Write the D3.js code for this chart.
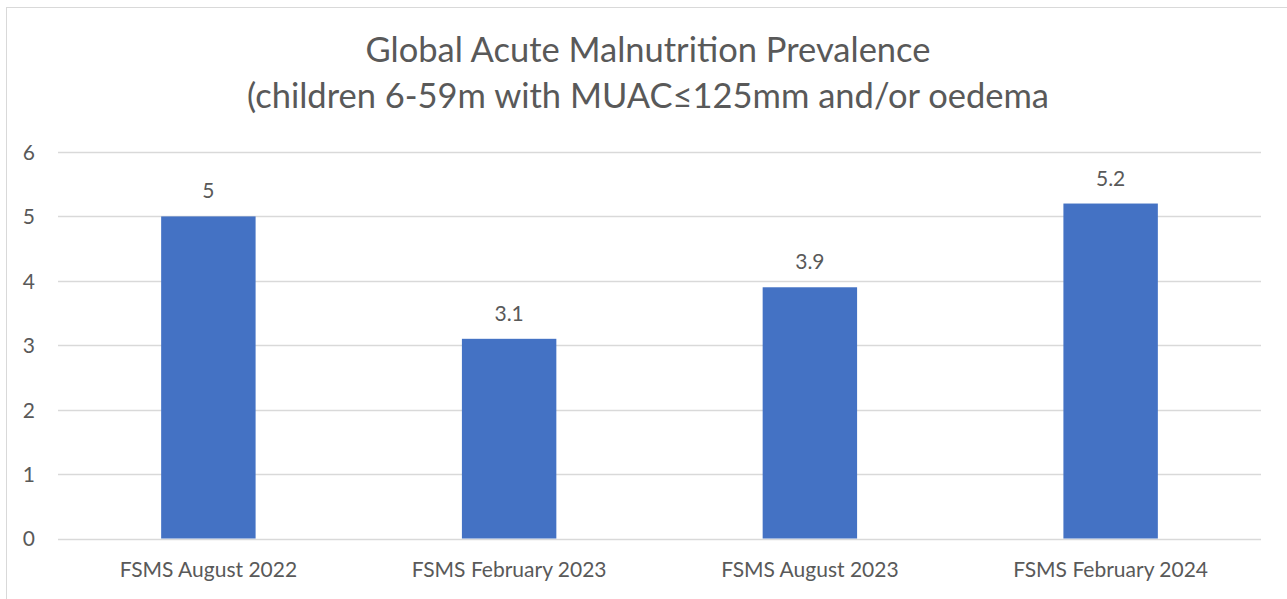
<!DOCTYPE html>
<html>
<head>
<meta charset="utf-8">
<script src="https://cdn.jsdelivr.net/npm/d3@7"></script>
<style>
  html, body { margin: 0; padding: 0; background: #fff; }
  svg { display: block; }
  text { font-family: Lato, "Open Sans", sans-serif; fill: #595959; }
</style>
</head>
<body>
<svg id="chart" width="1287" height="599"></svg>
<script>
const categories = ["FSMS August 2022", "FSMS February 2023", "FSMS August 2023", "FSMS February 2024"];
const values = [5, 3.1, 3.9, 5.2];
const yTicks = [0, 1, 2, 3, 4, 5, 6];
const titleLines = ["Global Acute Malnutrition Prevalence", "(children 6-59m with MUAC\u2264125mm and/or oedema"];

const svg = d3.select("#chart");
const W = 1287, H = 599;

// chart border (extends past right and bottom edges)
svg.append("rect")
  .attr("x", 6.5).attr("y", 7.5)
  .attr("width", W + 10).attr("height", H + 10)
  .attr("fill", "#fff").attr("stroke", "#d9d9d9").attr("stroke-width", 1);

const x = d3.scaleBand().domain(categories).range([58, 1261])
  .paddingInner(0.686).paddingOuter(0.343);
const y = d3.scaleLinear().domain([0, 6]).range([538.5, 152]);

// gridlines
svg.append("g").selectAll("line").data(yTicks).join("line")
  .attr("x1", 58).attr("x2", 1261)
  .attr("y1", d => Math.round(y(d)) + 0.5).attr("y2", d => Math.round(y(d)) + 0.5)
  .attr("stroke", "#d9d9d9").attr("stroke-width", 1.3);

// y axis labels
const yAxis = d3.axisLeft(y).tickValues(yTicks).tickSize(0).tickPadding(0).tickFormat(d3.format("d"));
const gy = svg.append("g").attr("transform", "translate(35,0)").call(yAxis);
gy.select(".domain").remove();
gy.selectAll("text").attr("font-size", 21).attr("fill", "#595959")
  .style("font-family", "Lato, 'Open Sans', sans-serif").attr("dy", "0.35em");

// bars
svg.append("g").selectAll("rect").data(values).join("rect")
  .attr("x", (d, i) => x(categories[i]))
  .attr("width", x.bandwidth())
  .attr("y", d => y(d))
  .attr("height", d => y(0) - y(d))
  .attr("fill", "#4472c4");

// data labels
svg.append("g").selectAll("text").data(values).join("text")
  .attr("x", (d, i) => x(categories[i]) + x.bandwidth() / 2)
  .attr("y", d => y(d) - 18)
  .attr("text-anchor", "middle")
  .attr("font-size", 21)
  .text(d => d);

// x axis labels
const xAxis = d3.axisBottom(x).tickSize(0).tickPadding(0);
const gx = svg.append("g").attr("transform", "translate(0,577)").call(xAxis);
gx.select(".domain").remove();
gx.selectAll("text").attr("font-size", 21).attr("fill", "#595959")
  .style("font-family", "Lato, 'Open Sans', sans-serif").attr("dy", 0);

// title
svg.append("g").selectAll("text").data(titleLines).join("text")
  .attr("x", 648)
  .attr("y", (d, i) => 62 + i * 46)
  .attr("text-anchor", "middle")
  .attr("font-size", 34.5)
  .text(d => d);
</script>
</body>
</html>
